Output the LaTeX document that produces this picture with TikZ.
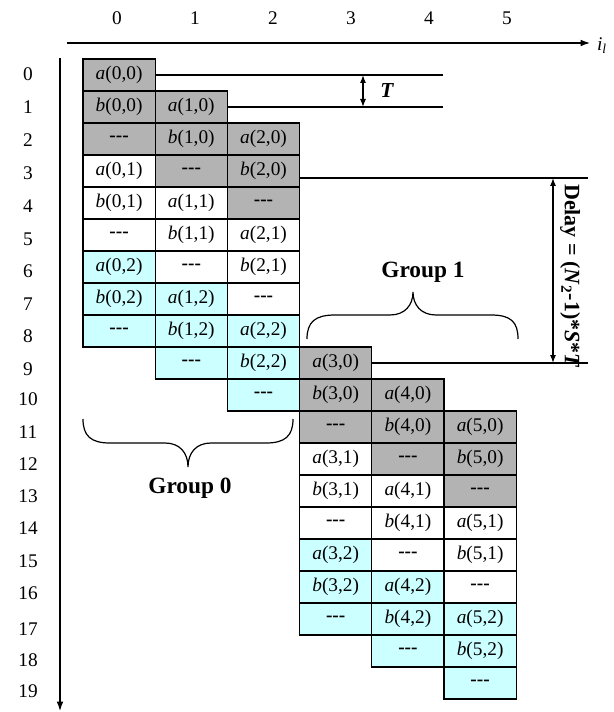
\documentclass[tikz,border=0pt]{standalone}
\usepackage{fontspec}
\setmainfont{Liberation Serif}
\usepackage{tikz}
\usetikzlibrary{arrows.meta}
\definecolor{cellgray}{HTML}{B3B3B3}
\definecolor{cellcyan}{HTML}{CCFFFF}

\begin{document}
\begin{tikzpicture}[x=0.75pt, y=-0.75pt, line width=0.9pt,
  cell/.style={draw, line width=0.9pt, minimum width=54.15pt, minimum height=24pt, inner sep=0pt, font=\fontsize{14.5}{16}\selectfont},
  lbl/.style={font=\fontsize{14.5}{16}\selectfont},
  grp/.style={font=\fontsize{17.5}{20}\selectfont\bfseries},
  axis/.style={-{Latex[length=7pt,width=5pt]}},
  dim/.style={{Latex[length=6pt,width=4.5pt]}-{Latex[length=6pt,width=4.5pt]}}]
  \useasboundingbox (0,0) rectangle (613,712);

  % Axes
  \coordinate (xstart) at (67,43);
  \coordinate (xend) at (590,43);
  \coordinate (ystart) at (60,58);
  \coordinate (yend) at (60,711);
  \draw[axis] (xstart) -- (xend);
  \draw[axis] (ystart) -- (yend);
  \node[lbl, anchor=west] (il) at (592,46) {\textit{i}\textsubscript{\textit{l}}};

  % Column and row numbers
  \foreach \c in {0,...,5}
    \node[lbl] (col\c) at (117+78*\c, 18) {\c};
  \foreach \r/\y in {0/74,1/107,2/140,3/173,4/206,5/239,6/271,7/304,8/336,9/369,
                     10/399,11/432,12/464,13/496,14/528,15/561,16/593,17/629,18/660,19/691}
    \node[lbl] (row\r) at (28,\y) {\r};

  % Cells: column / first row
  \foreach \c/\s in {0/0,1/1,2/2,3/9,4/10,5/11}
    \foreach \g/\col in {0/cellgray,1/white,2/cellcyan}
      \foreach \m/\txt in {0/{\textit{a}(\c,\g)},1/{\textit{b}(\c,\g)},2/{\textbf{-{}-{}-}}} {
        \pgfmathtruncatemacro{\rr}{\s+3*\g+\m}
        \node[cell, fill=\col] (cell-\c-\rr) at (119.1+72.2*\c, 75+32*\rr) {\txt};
      }

  % T spacing
  \coordinate (tEnd0) at (443,75);
  \coordinate (tEnd1) at (443,107);
  \draw (cell-0-0.east) -- (tEnd0);
  \draw (cell-1-1.east) -- (tEnd1);
  \coordinate (tTop) at (363,75);
  \coordinate (tBot) at (363,107);
  \draw[dim] (tTop) -- (tBot);
  \node[font=\fontsize{16}{18}\selectfont\bfseries\itshape] (tlbl) at (387,91) {T};

  % Delay between groups
  \coordinate (dEnd0) at (588,178);
  \coordinate (dEnd1) at (588,363);
  \draw ([yshift=-5.25pt]cell-2-3.east) -- (dEnd0);
  \draw (cell-3-9.east) -- (dEnd1);
  \coordinate (dTop) at (553,178);
  \coordinate (dBot) at (553,363);
  \draw[dim] (dTop) -- (dBot);
  \node[rotate=-90, font=\fontsize{16.5}{18}\selectfont\bfseries] (delay) at (570,276)
    {Delay = (\textit{N}\textsubscript{2}-1)*\textit{S}*\textit{T}};

  % Group 1 brace
  \draw (307,339) .. controls (307,322) and (315,315) .. (335,315) -- (390,315)
    .. controls (405,315) and (413,305) .. (413,292)
    .. controls (413,305) and (421,315) .. (436,315) -- (491,315)
    .. controls (511,315) and (518,322) .. (518,339);
  \node[grp] (grp1) at (423,272) {Group 1};

  % Group 0 brace
  \draw (83,419) .. controls (83,436) and (91,443) .. (110,443) -- (165,443)
    .. controls (180,443) and (188,453) .. (188,467)
    .. controls (188,453) and (196,443) .. (211,443) -- (266,443)
    .. controls (285,443) and (293,436) .. (293,419);
  \node[grp] (grp0) at (190,488) {Group 0};
\end{tikzpicture}
\end{document}
